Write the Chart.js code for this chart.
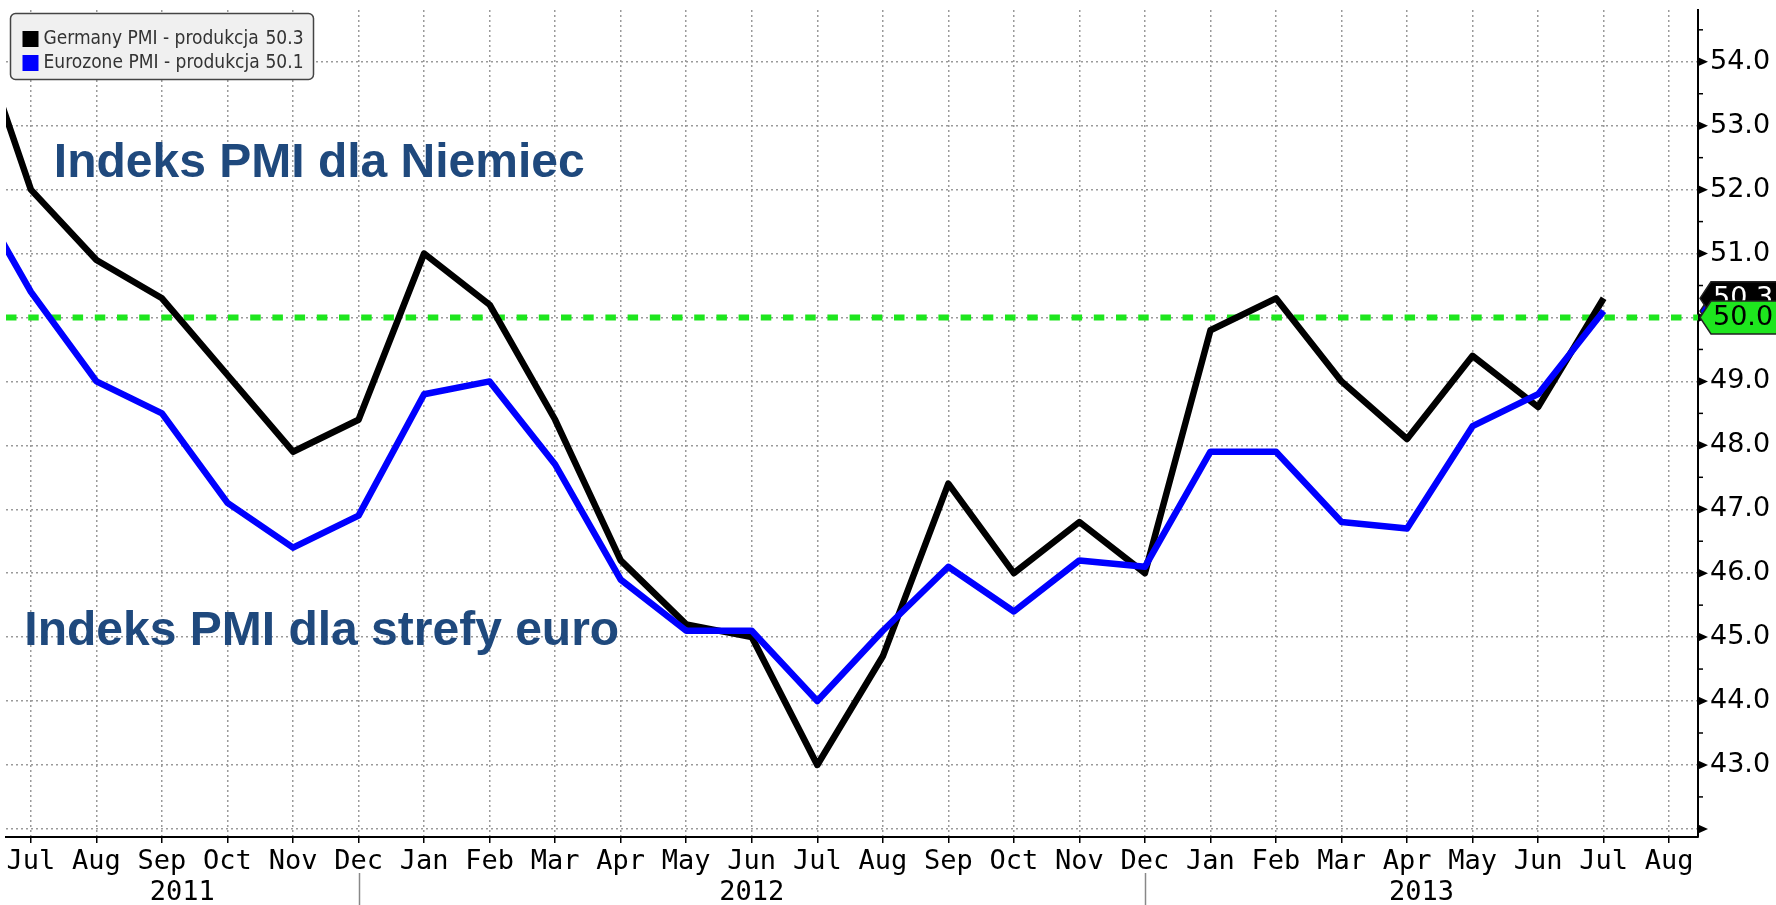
<!DOCTYPE html>
<html>
<head>
<meta charset="utf-8">
<script src="https://cdn.jsdelivr.net/npm/chart.js@4.4.0/dist/chart.umd.min.js"></script>
<style>
    html, body { margin: 0; padding: 0; background: #fff; }
    #wrap { width: 1776px; height: 905px; position: relative; }
</style>
</head>
<body>
<div id="wrap"><canvas id="myChart" width="1776" height="905"></canvas></div>
<script>
// Jun 2011 .. Aug 2013 (x index = position - 1, so Jul 2011 = 0)
const months = ['Jun', 'Jul', 'Aug', 'Sep', 'Oct', 'Nov', 'Dec',
    'Jan', 'Feb', 'Mar', 'Apr', 'May', 'Jun', 'Jul', 'Aug', 'Sep', 'Oct', 'Nov', 'Dec',
    'Jan', 'Feb', 'Mar', 'Apr', 'May', 'Jun', 'Jul', 'Aug']
const years = ['2011', '2012', '2013']
const yearBreaks = [5, 17]
const germany = [55.0, 52.0, 50.9, 50.3, 49.1, 47.9, 48.4,
    51.0, 50.2, 48.4, 46.2, 45.2, 45.0, 43.0, 44.7, 47.4, 46.0, 46.8, 46.0,
    49.8, 50.3, 49.0, 48.1, 49.4, 48.6, 50.3]
const eurozone = [52.2, 50.4, 49.0, 48.5, 47.1, 46.4, 46.9,
    48.8, 49.0, 47.7, 45.9, 45.1, 45.1, 44.0, 45.1, 46.1, 45.4, 46.2, 46.1,
    47.9, 47.9, 46.8, 46.7, 48.3, 48.8, 50.1]
const yTicks = [42, 43, 44, 45, 46, 47, 48, 49, 50, 51, 52, 53, 54]
const threshold = 50
const seriesNames = ['Germany PMI - produkcja', 'Eurozone PMI - produkcja']
const notes = [
    { text: 'Indeks PMI dla Niemiec', x: 0.35, y: 52.2 },
    { text: 'Indeks PMI dla strefy euro', x: -0.1, y: 44.88 }
]

const xMin = -0.38, xMax = 25.44
const yMin = 41.873, yMax = 54.81

function toPoints(arr) {
    return arr.map((v, i) => ({ x: i - 1, y: v }))
}

const last = arr => arr[arr.length - 1]

const extras = {
    id: 'extras',
    afterDraw(chart) {
        const { ctx, chartArea, scales: { x, y } } = chart
        const ax = chartArea.right
        ctx.save()

        // right axis: arrow heads at majors, short ticks at halves
        ctx.fillStyle = '#000'
        yTicks.forEach(v => {
            const py = y.getPixelForValue(v)
            ctx.beginPath()
            ctx.moveTo(ax, py - 4.5)
            ctx.lineTo(ax + 10, py)
            ctx.lineTo(ax, py + 4.5)
            ctx.closePath()
            ctx.fill()
            const pm = y.getPixelForValue(v + 0.5)
            ctx.strokeStyle = '#000'
            ctx.lineWidth = 1.5
            ctx.beginPath()
            ctx.moveTo(ax, pm)
            ctx.lineTo(ax + 5, pm)
            ctx.stroke()
        })

        // last value flags
        function flag(val, fill, txtColor, label) {
            const py = y.getPixelForValue(val)
            ctx.beginPath()
            ctx.moveTo(ax + 2, py)
            ctx.lineTo(ax + 13, py - 16.5)
            ctx.lineTo(chart.width + 5, py - 16.5)
            ctx.lineTo(chart.width + 5, py + 16.5)
            ctx.lineTo(ax + 13, py + 16.5)
            ctx.closePath()
            ctx.fillStyle = fill
            ctx.fill()
            ctx.strokeStyle = '#222'
            ctx.lineWidth = 1.5
            ctx.stroke()
            ctx.fillStyle = txtColor
            ctx.font = '27px "DejaVu Sans"'
            ctx.textAlign = 'left'
            ctx.textBaseline = 'middle'
            ctx.fillText(label, ax + 15, py + 1)
        }
        flag(last(eurozone), '#0000ff', '#fff', last(eurozone).toFixed(1))
        flag(last(germany), '#000', '#fff', last(germany).toFixed(1))
        flag(threshold, '#1ee61e', '#000', threshold.toFixed(1))

        // year row
        const bounds = [xMin].concat(yearBreaks, [xMax])
        ctx.fillStyle = '#000'
        ctx.font = '27px "DejaVu Sans Mono"'
        ctx.textAlign = 'center'
        ctx.textBaseline = 'middle'
        years.forEach((yr, i) => {
            const cx = x.getPixelForValue((bounds[i] + bounds[i + 1]) / 2)
            ctx.fillText(yr, cx, 893)
        })
        ctx.strokeStyle = '#888'
        ctx.lineWidth = 1.5
        yearBreaks.forEach(b => {
            const px = Math.round(x.getPixelForValue(b)) + 0.5
            ctx.beginPath()
            ctx.moveTo(px, 873)
            ctx.lineTo(px, 905)
            ctx.stroke()
        })

        // annotations
        ctx.fillStyle = '#1f497d'
        ctx.font = 'bold 48px "Liberation Sans"'
        ctx.textAlign = 'left'
        ctx.textBaseline = 'alphabetic'
        notes.forEach(n => {
            ctx.fillText(n.text, x.getPixelForValue(n.x), y.getPixelForValue(n.y))
        })

        // legend box
        const lx = chartArea.left + 4.5, ly = chartArea.top + 3.5, lw = 303, lh = 66
        ctx.beginPath()
        ctx.roundRect(lx, ly, lw, lh, 5)
        ctx.fillStyle = '#f0f0f0'
        ctx.fill()
        ctx.strokeStyle = '#444'
        ctx.lineWidth = 1.5
        ctx.stroke()
        const swatch = ['#000', '#0000ff']
        const vals = [last(germany), last(eurozone)]
        ctx.font = '19px "DejaVu Sans Condensed"'
        ctx.textBaseline = 'middle'
        seriesNames.forEach((name, i) => {
            const rowY = ly + 25.5 + i * 24
            ctx.fillStyle = swatch[i]
            ctx.fillRect(lx + 12, rowY - 8, 16, 16)
            ctx.fillStyle = '#333'
            ctx.textAlign = 'left'
            ctx.fillText(name, lx + 33, rowY)
            ctx.textAlign = 'right'
            ctx.fillText(vals[i].toFixed(1), lx + lw - 10, rowY)
        })
        ctx.restore()
    }
}

const ctx = document.getElementById('myChart')
const myChart = new Chart(ctx, {
    type: 'line',
    data: {
        datasets: [{
            label: seriesNames[1],
            data: toPoints(eurozone),
            borderColor: '#0000ff',
            borderWidth: 6.5,
            pointRadius: 0,
            borderJoinStyle: 'round',
            clip: { left: 0, top: false, right: false, bottom: false },
            order: 0
        }, {
            label: seriesNames[0],
            data: toPoints(germany),
            borderColor: '#000',
            borderWidth: 6.5,
            pointRadius: 0,
            borderJoinStyle: 'round',
            clip: { left: 0, top: false, right: false, bottom: false },
            order: 1
        }, {
            label: '50',
            data: [{ x: xMin, y: threshold }, { x: xMax, y: threshold }],
            borderColor: '#1ee61e',
            borderWidth: 6,
            borderDash: [10.5, 11.7],
            pointRadius: 0,
            order: 2
        }]
    },
    options: {
        responsive: false,
        animation: false,
        events: [],
        layout: { padding: { left: 6, top: 10, right: 0, bottom: 0 } },
        plugins: { legend: { display: false }, tooltip: { enabled: false } },
        scales: {
            x: {
                type: 'linear',
                min: xMin,
                max: xMax,
                afterBuildTicks: scale => {
                    scale.ticks = months.slice(1).map((m, i) => ({ value: i }))
                },
                afterFit: scale => {
                    scale.height = 68
                    scale.paddingLeft = 0
                    scale.paddingRight = 0
                },
                ticks: {
                    callback: v => months[v + 1],
                    font: { family: 'DejaVu Sans Mono', size: 27 },
                    color: '#000',
                    padding: 3,
                    maxRotation: 0,
                    autoSkip: false
                },
                grid: {
                    color: '#9a9a9a',
                    lineWidth: 1.5,
                    drawTicks: true,
                    tickLength: 6,
                    tickColor: '#000',
                    tickWidth: 1.5
                },
                border: { display: true, color: '#000', width: 2, dash: [2, 3] }
            },
            y: {
                position: 'right',
                min: yMin,
                max: yMax,
                afterBuildTicks: scale => {
                    scale.ticks = yTicks.map(v => ({ value: v }))
                },
                afterFit: scale => {
                    scale.width = 78
                    scale.paddingTop = 0
                    scale.paddingBottom = 0
                },
                ticks: {
                    callback: v => (v === 42 ? '' : v.toFixed(1)),
                    font: { family: 'DejaVu Sans', size: 27 },
                    color: '#000',
                    padding: 12
                },
                grid: {
                    color: '#9a9a9a',
                    lineWidth: 1.5,
                    drawTicks: false
                },
                border: { display: true, color: '#000', width: 2, dash: [2, 3] }
            }
        }
    },
    plugins: [extras]
})
</script>
</body>
</html>
